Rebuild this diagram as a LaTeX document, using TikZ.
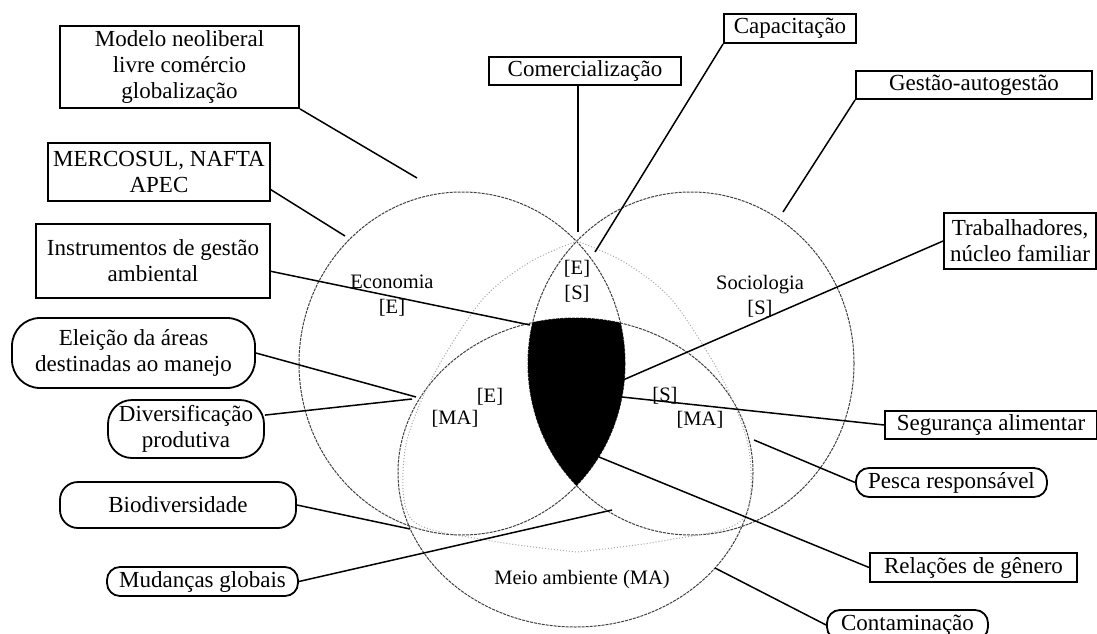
\documentclass[tikz,border=0pt]{standalone}
\usepackage{fontspec}
\setmainfont{Liberation Serif}

\newcommand\bxfont{\fontsize{23}{26}\selectfont}
\newcommand\lbfont{\fontsize{20.5}{25}\selectfont}

\tikzset{
  sqbox/.style={draw, line width=1.8pt, inner sep=1pt, align=center, font=\bxfont},
  rndbox/.style={sqbox, rounded corners=13pt},
  ring/.style={dash pattern=on 3pt off 1pt, line width=1pt, black!75},
  ghost/.style={dash pattern=on 1pt off 2pt, line width=1pt, black!35},
  lead/.style={line width=1.5pt},
  lbl/.style={font=\lbfont, align=center, inner sep=0pt}
}

\begin{document}
\begin{tikzpicture}[x=1pt, y=-1pt]
\useasboundingbox (0,0) rectangle (1097,634);

% Three spheres
\draw[ring] (462,363.5) ellipse [x radius=163, y radius=171.5];
\draw[ring] (691,363.5) ellipse [x radius=163, y radius=171.5];
\draw[ring] (575.5,472.5) ellipse [x radius=177.5, y radius=154.5];

% Common core
\begin{scope}
  \clip (462,363.5) ellipse [x radius=163, y radius=171.5];
  \clip (691,363.5) ellipse [x radius=163, y radius=171.5];
  \fill (575.5,472.5) ellipse [x radius=177.5, y radius=154.5];
\end{scope}

% Faint outline
\draw[ghost] plot[smooth] coordinates {(577,241) (530,262) (482,300) (432,378) (405,450) (412,520) (492,541) (577,552)};
\draw[ghost] plot[smooth] coordinates {(577,241) (624,262) (672,300) (722,378) (749,450) (742,520) (662,541) (577,552)};

% Sphere labels
\node[lbl] (econLbl) at (392,296) {Economia\\{[E]}};
\node[lbl] (socLbl) at (760,296) {Sociologia\\{[S]}};
\node[lbl] (esLbl) at (577,281) {{[E]}\\{[S]}};
\node[lbl] (eLbl) at (490,397) {[E]};
\node[lbl] (emaLbl) at (455,419) {[MA]};
\node[lbl] (sLbl) at (665,396) {[S]};
\node[lbl] (smaLbl) at (700,420) {[MA]};
\node[lbl] (maLbl) at (582,580) {Meio ambiente (MA)};

% Boxes, left
\node[sqbox, minimum width=239, minimum height=82] (modelo) at (179.5,67) {Modelo neoliberal\\livre comércio\\globalização};
\node[sqbox, minimum width=222, minimum height=58] (mercosul) at (159,172) {MERCOSUL, NAFTA\\APEC};
\node[sqbox, minimum width=234, minimum height=74] (instr) at (153,261) {Instrumentos de gestão\\ambiental};
\node[rndbox, rounded corners=28pt, minimum width=243, minimum height=70] (eleic) at (133.5,353) {Eleição da áreas\\destinadas ao manejo};
\node[rndbox, rounded corners=24pt, minimum width=156, minimum height=58] (divers) at (186,429) {Diversificação\\produtiva};
\node[rndbox, rounded corners=18pt, minimum width=236, minimum height=46] (bio) at (178,505) {Biodiversidade};
\node[rndbox, minimum width=191, minimum height=29] (mud) at (202.5,581.5) {Mudanças globais};

% Boxes, top
\node[sqbox, minimum width=192, minimum height=28] (comerc) at (585,71) {Comercialização};
\node[sqbox, minimum width=132, minimum height=29] (capac) at (790,28.5) {Capacitação};
\node[sqbox, minimum width=236, minimum height=28] (gestao) at (974,85) {Gestão-autogestão};

% Boxes, right
\node[sqbox, minimum width=152, minimum height=56] (trab) at (1020,241) {Trabalhadores,\\núcleo familiar};
\node[sqbox, minimum width=212, minimum height=28] (segur) at (991,425) {Segurança alimentar};
\node[rndbox, minimum width=191, minimum height=29] (pesca) at (951.5,482.5) {Pesca responsável};
\node[sqbox, minimum width=207, minimum height=29] (relac) at (973.5,567.5) {Relações de gênero};
\node[rndbox, minimum width=161, minimum height=30] (contam) at (907.5,625) {Contaminação};

% Connector ends
\coordinate (modeloEnd) at (417,178);
\coordinate (mercEnd) at (345,236);
\coordinate (instrEnd) at (530,325);
\coordinate (eleicEnd) at (416,397);
\coordinate (diversEnd) at (412,399);
\coordinate (bioEnd) at (410,529);
\coordinate (mudEnd) at (612,510);
\coordinate (comEnd) at (578,232);
\coordinate (capEnd) at (595,252);
\coordinate (gestEnd) at (783,212);
\coordinate (trabEnd) at (623,380);
\coordinate (segEnd) at (622,397);
\coordinate (pescaEnd) at (754,440);
\coordinate (relEnd) at (599,457);
\coordinate (contEnd) at (715,568);

% Connections
\foreach \from/\to in {modelo.south east/modeloEnd, mercosul.-9/mercEnd, instr.-5/instrEnd,
    eleic.east/eleicEnd, divers.10/diversEnd, bio.east/bioEnd, mud.east/mudEnd,
    capac.south west/capEnd, gestao.south west/gestEnd, trab.west/trabEnd,
    segur.west/segEnd, pesca.west/pescaEnd, relac.west/relEnd, contam.west/contEnd}
  \draw[lead] (\from) -- (\to);
\draw[lead] (comerc.south -| comEnd) -- (comEnd);
\end{tikzpicture}
\end{document}
